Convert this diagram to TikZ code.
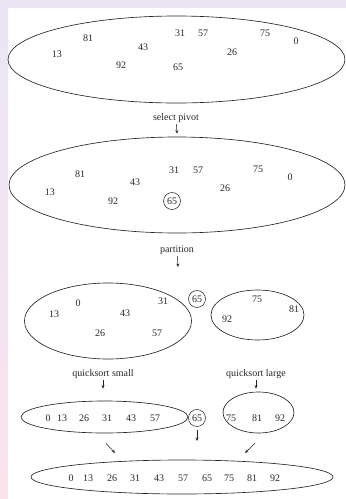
\documentclass[tikz,border=0pt]{standalone}
\usepackage{fontspec}
\setmainfont{Liberation Serif}
\usetikzlibrary{arrows.meta,positioning,shapes.geometric,calc}
\definecolor{ink}{HTML}{262626}
\definecolor{edgetop}{HTML}{E9E5F5}
\definecolor{edgebot}{HTML}{FAE4EC}
\tikzset{
  >={Stealth[length=3.5pt,width=3pt]},
  every node/.style={font=\fontsize{10}{12}\selectfont,text=ink},
  setbox/.style={ellipse,draw=ink,line width=0.65pt,inner sep=0pt},
  num/.style={inner sep=1pt},
  pivot/.style={circle,draw=ink,line width=0.55pt,inner sep=0pt,minimum size=17pt},
  lbl/.style={inner sep=1.5pt},
  arrow/.style={->,line width=0.55pt,draw=ink},
}

\begin{document}
\begin{tikzpicture}[x=1pt,y=-1pt]

% page edge
\useasboundingbox (0,0) rectangle (346,499);
\fill[edgetop] (0,0) rectangle (346,8);
\shade[top color=edgetop,bottom color=edgebot] (0,0) rectangle (8,499);

% unsorted set
\node[setbox,minimum width=337,minimum height=87] (all) at (176.5,59.5) {};
\foreach \v/\x/\y in {81/88/38,43/143/47,31/180/33,57/203/33,75/265/33,0/296/41,26/232/52,13/57/54,92/121/65,65/178/67}
  \node[num] (a\v) at (\x,\y) {\v};

\node[lbl] (selpivot) at (176,118) {select pivot};

% pivot chosen
\node[setbox,minimum width=336,minimum height=96] (pick) at (177,185) {};
\foreach \v/\x/\y in {81/80/174,43/135/182,31/174/170,57/198/170,75/258/169,0/290/177,26/225/188,13/50/192,92/113/201}
  \node[num] (b\v) at (\x,\y) {\v};
\node[pivot] (p2) at (172,201) {65};

\draw[arrow] (selpivot) -- ([yshift=3pt]pick.north);

\node[lbl] (partlbl) at (177,250) {partition};
\coordinate (split) at (178,267);
\draw[arrow] (partlbl) -- (split);

% after partition
\node[setbox,minimum width=167,minimum height=76] (small) at (108,321) {};
\foreach \v/\x/\y in {0/78/303,31/163/301,13/54/314,43/125/313,26/100/333,57/157/333}
  \node[num] (c\v) at (\x,\y) {\v};
\node[pivot] (p3) at (197,299) {65};
\node[setbox,minimum width=93,minimum height=50] (large) at (257.5,315) {};
\foreach \v/\x/\y in {75/257/299,81/294/309,92/227/319}
  \node[num] (d\v) at (\x,\y) {\v};

\node[lbl] (qssmall) at (103,374) {quicksort small};
\node[lbl] (qslarge) at (256,374) {quicksort large};

% sorted halves
\node[setbox,minimum width=167,minimum height=32] (sortsmall) at (104.5,417) {};
\foreach \v/\x in {0/48,13/62,26/84,31/107,43/131,57/155}
  \node[num] (e\v) at (\x,418) {\v};
\node[pivot] (p4) at (197,418) {65};
\node[setbox,minimum width=71,minimum height=41] (sortlarge) at (258.5,412.5) {};
\foreach \v/\x in {75/231,81/257,92/280}
  \node[num] (f\v) at (\x,418) {\v};

\draw[arrow,shorten >=12pt] (qssmall) -- (qssmall |- sortsmall.north);
\draw[arrow,shorten >=3pt] (qslarge) -- (qslarge |- sortlarge.north);

% merged result
\node[setbox,minimum width=302,minimum height=34] (final) at (182,477) {};
\foreach \v/\x in {0/71,13/88,26/112,31/135,43/159,57/183,65/207,75/229,81/252,92/275}
  \node[num] (g\v) at (\x,478) {\v};

\coordinate (inL) at (115,453);
\coordinate (inM) at (197,441);
\coordinate (inR) at (245,453);
\draw[arrow] ([shift={(1.5,10)}]sortsmall.south) -- (inL);
\draw[arrow,shorten <=3pt] (p4) -- (inM);
\draw[arrow] ([shift={(-3.5,10)}]sortlarge.south) -- (inR);

\end{tikzpicture}
\end{document}
